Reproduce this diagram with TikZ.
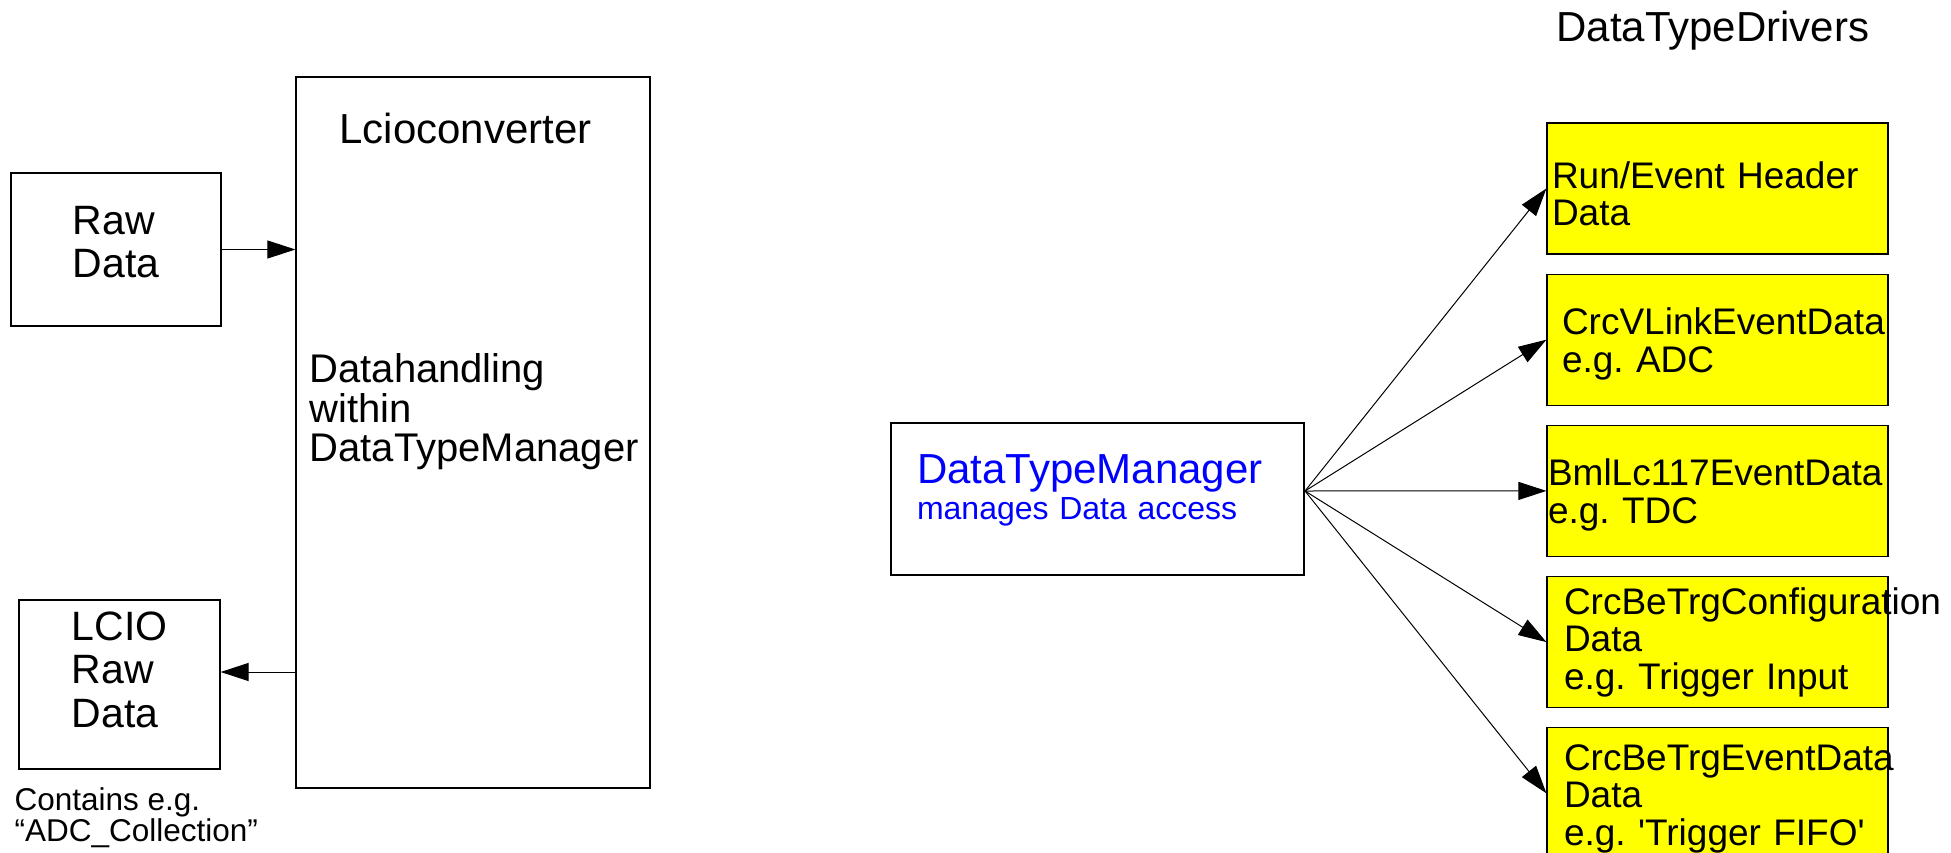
\documentclass[tikz,border=0pt]{standalone}
\usepackage{fontspec}
\setmainfont{Liberation Sans}
\usetikzlibrary{arrows.meta,chains,positioning}
\hyphenpenalty=10000
\exhyphenpenalty=10000
\frenchspacing
\definecolor{drvyellow}{RGB}{255,255,0}

\begin{document}
\begin{tikzpicture}[x=1pt,y=-1pt,
    arj/.style={line width=1pt,-{Triangle[length=28pt,width=18pt]}},
    blk/.style={draw,line width=1.2pt,inner sep=0pt,align=left},
    drv/.style={blk,fill=drvyellow,minimum height=131pt,font=\fontsize{37}{37.5}\selectfont},
    bigtxt/.style={font=\fontsize{41}{43.5}\selectfont}]
\useasboundingbox (0,0) rectangle (1951,853);

% converter side
\node[blk,bigtxt,minimum width=210pt,minimum height=153pt,text depth=15pt] (raw) at (116,249.5) {Raw\\Data};
\node[blk,minimum width=354pt,minimum height=711pt] (lcio) at (473,432.5) {};
\node[anchor=west,font=\fontsize{42}{42}\selectfont] (lciotitle) at (336,128) {Lcioconverter};
\node[anchor=west,align=left,font=\fontsize{40}{39.5}\selectfont] (handling) at (306,412) {Datahandling\\within\\DataTypeManager};
\node[blk,bigtxt,minimum width=201pt,minimum height=169pt,text depth=30pt] (lcioraw) at (119.5,684.5) {LCIO\\Raw\\Data};
\node[anchor=west,align=left,font=\fontsize{31.5}{31}\selectfont] (contains) at (11,818) {Contains e.g.\\“ADC\_Collection”};

\coordinate (back) at ([yshift=12.5pt]lcioraw.east);
\draw[arj] (raw.east) -- (raw.east -| lcio.west);
\draw[arj] (lcio.west |- back) -- (back);

% manager and drivers
\node[blk,inner xsep=26pt,text width=361pt,minimum height=152pt,text depth=59pt,text=blue,font=\fontsize{32}{36}\selectfont] (dtm) at (1097.5,499)
    {{\fontsize{42}{44}\selectfont DataTypeManager}\\manages Data access};
\node[anchor=west,font=\fontsize{42}{42}\selectfont] (drvtitle) at (1553,31) {DataTypeDrivers};

\path[start chain=D going below,node distance=19pt,nodes={on chain,drv}]
    node[inner xsep=5pt,text width=331pt,text height=37pt] (run) at (1717.5,188.5) {Run/Event Header\\Data}
    node[inner xsep=15pt,text width=311pt,text height=35pt] (vlink) {CrcVLinkEventData\\e.g. ADC}
    node[inner xsep=1pt,text width=339pt,text height=35pt] (bml) {BmlLc117EventData\\e.g. TDC}
    node[inner xsep=17pt,text width=307pt] (cfg) {CrcBeTrgConfiguration\\Data\\e.g. Trigger Input}
    node[inner xsep=17pt,text width=307pt,text height=37pt] (trgev) {CrcBeTrgEventData\\Data\\e.g. \textquotesingle Trigger FIFO\textquotesingle};

\coordinate (hub) at (1305,491);
\foreach \n in {run,vlink,bml,cfg,trgev}
    \draw[arj] (hub) -- (\n.west);
\end{tikzpicture}
\end{document}
